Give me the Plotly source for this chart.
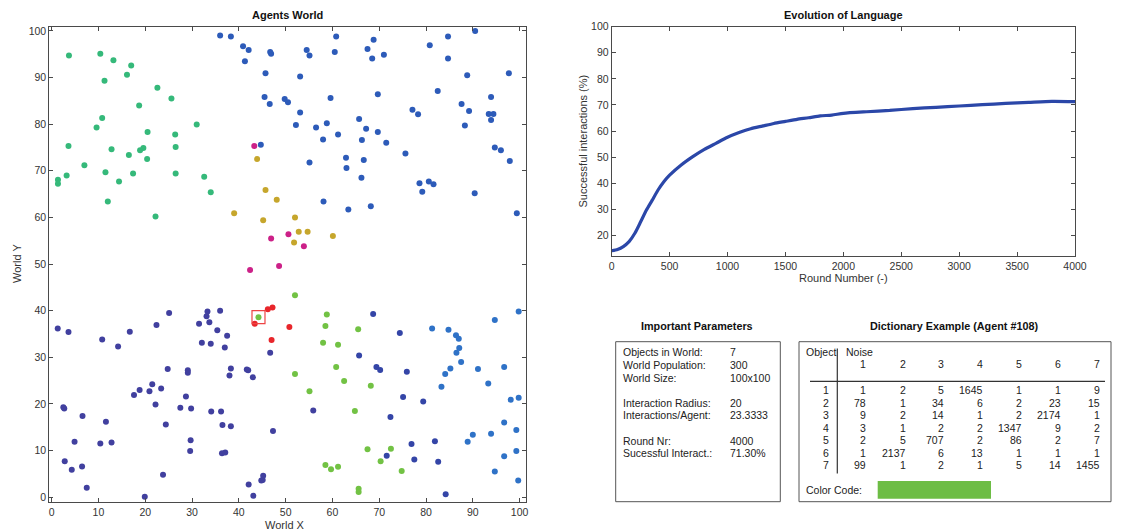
import plotly.graph_objects as go

W, H = 1135, 530


def fx(px):
    return px / W


def fy(py):
    return 1 - py / H


FONT = "Liberation Sans, Arial, sans-serif"
AXIS_COL = "#4a4a4a"
TEXT_COL = "#222222"

# ---------------- agents, grouped by shared language ----------------
teal_x = [3.7, 10.4, 13.2, 17.0, 16.1, 11.3, 22.6, 25.6, 18.7, 10.8, 9.6, 31.0, 20.5, 26.4, 3.6, 12.8,
          18.9, 19.6, 26.5, 16.5, 20.4, 7.0, 1.35, 1.35, 3.2, 11.5, 17.4, 26.5, 14.4, 32.6, 34.0, 12.0, 22.2]
teal_y = [94.7, 95.1, 93.7, 92.6, 90.6, 89.3, 87.8, 85.5, 84.0, 81.3, 79.3, 79.9, 78.3, 77.8, 75.3, 74.6,
          74.4, 74.9, 75.1, 73.4, 72.5, 71.2, 68.1, 67.2, 69.0, 69.7, 69.4, 69.4, 67.7, 68.7, 65.4, 63.4, 60.2]

blue_x = [36.0, 38.3, 40.9, 42.1, 41.3, 46.7, 46.9, 45.7, 45.5, 46.6, 44.7,
          60.8, 54.5, 55.1, 60.5, 68.8, 67.5, 68.5, 71.0, 80.8, 84.7, 84.7, 90.5, 53.1, 88.8, 97.7,
          82.5, 69.7, 49.8, 50.5, 59.6, 53.1, 52.2, 56.5, 58.8, 61.2, 58.0, 65.7, 67.2, 69.7, 66.3,
          71.5, 77.1, 78.3, 75.6, 87.6, 89.2, 88.3, 93.9, 93.4, 94.4, 93.9, 94.7, 96.0, 97.9, 62.9,
          63.0, 66.7, 55.1, 66.2, 78.6, 79.2, 80.6, 81.6, 90.4, 99.4, 58.1, 63.4, 68.2]
blue_y = [99.0, 98.8, 96.7, 95.9, 93.5, 95.5, 95.1, 90.9, 85.8, 84.3, 75.6,
          98.8, 95.9, 94.7, 95.5, 98.1, 96.1, 94.1, 94.9, 96.9, 98.8, 94.1, 100.0, 90.2, 90.5, 90.9,
          87.1, 86.4, 85.4, 84.7, 85.6, 82.5, 79.8, 79.3, 80.2, 77.8, 76.7, 81.1, 79.0, 78.3, 76.6,
          76.0, 83.1, 82.1, 73.7, 84.3, 82.8, 79.7, 85.8, 82.2, 82.2, 80.9, 75.0, 74.4, 72.1, 72.8,
          70.6, 72.3, 71.8, 68.5, 67.3, 65.5, 67.7, 67.1, 65.2, 60.9, 63.4, 61.7, 62.4]

purple_x = [1.3, 3.6, 10.8, 16.7, 14.2, 22.4, 25.1, 31.5, 33.3, 33.1, 33.7, 32.1, 34.0, 36.0, 35.4,
            37.5, 37.0, 38.3, 38.0, 41.7, 42.0, 43.0, 46.7, 24.8, 29.1, 29.1, 21.5, 23.4, 20.9, 18.8,
            17.6, 28.7, 2.7, 2.5, 22.2, 27.5, 29.8, 6.6, 11.6, 24.4, 34.1, 36.2, 36.5, 38.3, 47.3,
            4.9, 10.4, 12.8, 29.7, 29.6, 36.4, 37.1, 2.8, 4.3, 6.5, 23.8, 7.5, 19.9, 42.1, 43.1,
            44.8, 45.1, 45.2, 55.9]
purple_y = [36.2, 35.4, 33.8, 35.5, 32.3, 36.9, 39.5, 37.2, 39.8, 38.8, 37.5, 33.1, 32.9, 40.0, 35.8,
            34.6, 32.1, 27.6, 26.1, 27.4, 27.2, 25.7, 31.0, 27.5, 27.2, 26.7, 24.2, 23.3, 22.7, 23.0,
            21.9, 21.6, 19.0, 19.3, 19.9, 19.2, 19.0, 17.4, 16.2, 15.6, 18.4, 18.4, 15.5, 15.2, 14.2,
            11.9, 11.5, 11.7, 12.2, 9.9, 9.4, 9.6, 7.7, 5.9, 6.6, 4.8, 2.0, 0.1, 2.7, 0.3,
            3.6, 3.7, 4.6, 18.6]

navy_x = [65.7, 69.4, 70.2, 68.7, 74.4, 75.9, 75.1, 79.4, 72.4, 76.9, 81.9, 71.6, 77.5, 82.6, 84.2]
navy_y = [30.4, 27.9, 27.3, 39.3, 35.2, 26.9, 21.5, 20.5, 17.2, 11.4, 12.0, 8.9, 8.1, 7.6, 0.6]

sky_x = [81.3, 84.8, 86.4, 87.0, 87.1, 86.5, 87.5, 85.2, 84.1, 83.3, 91.1, 93.3, 94.7, 96.7, 99.8,
         98.1, 99.8, 96.7, 99.3, 90.0, 93.9, 88.9, 99.3, 96.7, 94.7, 99.7]
sky_y = [36.2, 35.9, 34.7, 34.0, 32.0, 31.0, 29.0, 27.6, 26.4, 23.7, 27.5, 24.4, 38.0, 27.9, 39.8,
         20.9, 21.3, 16.0, 14.4, 13.4, 13.6, 11.9, 9.9, 8.8, 5.5, 3.6]

lime_x = [52.0, 58.8, 58.5, 65.5, 58.0, 61.2, 60.8, 52.0, 62.5, 68.2, 55.1, 64.8, 67.5, 72.5, 70.3,
          74.8, 58.5, 59.7, 61.2, 65.6, 65.6, 44.2]
lime_y = [43.3, 39.2, 36.7, 36.0, 33.1, 32.7, 27.9, 26.4, 24.9, 23.9, 22.7, 18.5, 10.3, 10.4, 7.7,
          5.6, 6.9, 6.0, 6.5, 1.8, 1.1, 38.6]

gold_x = [43.9, 39.0, 45.7, 48.1, 45.2, 52.0, 52.8, 54.7, 51.8, 60.1]
gold_y = [72.5, 60.9, 65.9, 63.8, 59.4, 60.0, 56.9, 56.9, 54.6, 56.0]

magenta_x = [43.3, 46.9, 50.6, 53.9, 48.6, 42.4]
magenta_y = [75.3, 55.5, 56.4, 53.8, 49.6, 48.7]

red_x = [43.4, 46.2, 47.2, 47.0, 50.8]
red_y = [37.2, 40.3, 40.7, 33.7, 36.5]

# agent #108, the one whose dictionary is listed
focus_x = [44.2]
focus_y = [38.6]

groups = [
    (teal_x, teal_y, "#35b97a"),
    (blue_x, blue_y, "#2d5bb9"),
    (purple_x, purple_y, "#41409f"),
    (navy_x, navy_y, "#3445a7"),
    (sky_x, sky_y, "#2f72c7"),
    (lime_x, lime_y, "#72c244"),
    (gold_x, gold_y, "#c6a62c"),
    (magenta_x, magenta_y, "#cc2188"),
    (red_x, red_y, "#e8262b"),
]

# ---------------- success rate over the rounds ----------------
rounds = [0, 50, 100, 150, 200, 250, 300, 350, 400, 450, 500, 600, 700, 800, 900, 1000,
          1100, 1200, 1300, 1400, 1500, 1600, 1700, 1800, 1900, 2000, 2200, 2400, 2600,
          2800, 3000, 3200, 3400, 3600, 3800, 4000]
success = [14.1, 14.6, 15.7, 17.6, 20.8, 25.2, 29.7, 33.5, 37.4, 40.6, 43.1, 47.0, 50.2, 53.0,
           55.3, 57.6, 59.4, 60.9, 61.9, 62.9, 63.7, 64.5, 65.1, 65.8, 66.1, 66.8, 67.4, 67.9,
           68.6, 69.1, 69.6, 70.1, 70.6, 71.0, 71.4, 71.3]

# ---------------- parameter panel ----------------
param_labels = ["Objects in World:", "World Population:", "World Size:", "",
                "Interaction Radius:", "Interactions/Agent:", "",
                "Round Nr:", "Sucessful Interact.:"]
param_values = ["7", "300", "100x100", "", "20", "23.3333", "", "4000", "71.30%"]

# ---------------- dictionary of agent #108 ----------------
noise_cols = ["1", "2", "3", "4", "5", "6", "7"]
object_rows = ["1", "2", "3", "4", "5", "6", "7"]
dictionary = [
    [1, 2, 5, 1645, 1, 1, 9],
    [78, 1, 34, 6, 2, 23, 15],
    [9, 2, 14, 1, 2, 2174, 1],
    [3, 1, 2, 2, 1347, 9, 2],
    [2, 5, 707, 2, 86, 2, 7],
    [1, 2137, 6, 13, 1, 1, 1],
    [99, 1, 2, 1, 5, 14, 1455],
]
color_code = "#6dbd45"

fig = go.Figure()

for gx, gy, col in groups:
    fig.add_trace(go.Scatter(x=gx, y=gy, mode="markers", xaxis="x", yaxis="y",
                             marker=dict(size=6, color=col, line=dict(width=0)),
                             hoverinfo="skip"))

fig.add_trace(go.Scatter(x=focus_x, y=focus_y, mode="markers", xaxis="x", yaxis="y",
                         marker=dict(symbol="square-open", size=13, color="#ee4444",
                                     line=dict(width=1.2, color="#ee4444")),
                         hoverinfo="skip"))

fig.add_trace(go.Scatter(x=rounds, y=success, mode="lines", xaxis="x2", yaxis="y2",
                         line=dict(color="#2b47a8", width=3.2, shape="spline", smoothing=0.6),
                         hoverinfo="skip"))

axis_common = dict(showline=True, linecolor=AXIS_COL, linewidth=1, mirror="ticks",
                   ticks="inside", ticklen=4, tickcolor=AXIS_COL, showgrid=False,
                   zeroline=False, automargin=False,
                   tickfont=dict(family=FONT, size=10.5, color="#333333"))

fig.update_layout(
    width=W, height=H,
    margin=dict(l=0, r=0, t=0, b=0, pad=0, autoexpand=False),
    paper_bgcolor="white", plot_bgcolor="white",
    showlegend=False,
    font=dict(family=FONT, color=TEXT_COL),
    xaxis=dict(domain=[fx(49.3), fx(525.7)], range=[-0.5, 101.3],
               tickvals=list(range(0, 101, 10)), anchor="y", **axis_common),
    yaxis=dict(domain=[fy(502.3), fy(26.7)], range=[-1.1, 100.9],
               tickvals=list(range(0, 101, 10)), anchor="x", **axis_common),
    xaxis2=dict(domain=[fx(611.7), fx(1075)], range=[0, 4000],
                tickvals=list(range(0, 4001, 500)), anchor="y2", **axis_common),
    yaxis2=dict(domain=[fy(256), fy(26.7)], range=[12.1, 100],
                tickvals=list(range(20, 101, 10)), anchor="x2", **axis_common),
)

ann = []
shapes = []
TBL = 10.5


def text(px, py, s, size=11, anchor="left", bold=False, angle=0, color=TEXT_COL):
    ann.append(dict(x=fx(px), y=fy(py), xref="paper", yref="paper", text=f"<b>{s}</b>" if bold else s,
                    showarrow=False, xanchor=anchor, yanchor="middle", textangle=angle,
                    font=dict(family=FONT, size=size, color=color)))


# panel titles and axis titles
text(287, 14.5, "Agents World", 11, "center", bold=True, color="#111111")
text(843, 14.5, "Evolution of Language", 11, "center", bold=True, color="#111111")
text(285, 524.5, "World X", 11, "center", color="#333333")
text(17, 264, "World Y", 11, "center", angle=-90, color="#333333")
text(843, 277.5, "Round Number (-)", 11, "center", color="#333333")
text(582, 141.5, "Successful interactions (%)", 11, "center", angle=-90, color="#333333")

# parameter panel
text(697, 325.5, "Important Parameters", 10.8, "center", bold=True, color="#111111")
shapes.append(dict(type="rect", xref="paper", yref="paper", x0=fx(615.7), x1=fx(780.3),
                   y0=fy(501.7), y1=fy(341.7), line=dict(color="#555555", width=1)))
for i, (lab, val) in enumerate(zip(param_labels, param_values)):
    if not lab:
        continue
    py = 352.3 + 12.6 * i
    text(621.5, py, lab, TBL)
    text(728.3, py, val, TBL)

# dictionary panel
text(954, 325.5, "Dictionary Example (Agent #108)", 10.8, "center", bold=True, color="#111111")
shapes.append(dict(type="rect", xref="paper", yref="paper", x0=fx(799), x1=fx(1111),
                   y0=fy(501.7), y1=fy(341.7), line=dict(color="#555555", width=1)))
shapes.append(dict(type="line", xref="paper", yref="paper", x0=fx(837.3), x1=fx(837.3),
                   y0=fy(473.5), y1=fy(348.5), line=dict(color="#333333", width=1.2)))
shapes.append(dict(type="line", xref="paper", yref="paper", x0=fx(810), x1=fx(1105),
                   y0=fy(381.3), y1=fy(381.3), line=dict(color="#333333", width=1.2)))
text(803.5, 351.7, "Object", TBL)
text(844.3, 351.7, "Noise", TBL)
col_right = [868, 907.5, 946.3, 985, 1023.6, 1062.8, 1102]
for c, lab in enumerate(noise_cols):
    text(col_right[c], 363.5, lab, TBL, "right")
for r, lab in enumerate(object_rows):
    py = 390 + 12.5 * r
    text(830.5, py, lab, TBL, "right")
    for c, v in enumerate(dictionary[r]):
        text(col_right[c], py, str(v), TBL, "right")
text(803.5, 490, "Color Code:", TBL)
shapes.append(dict(type="rect", xref="paper", yref="paper", x0=fx(877.7), x1=fx(991),
                   y0=fy(498.7), y1=fy(481), fillcolor=color_code, line=dict(width=0)))

fig.update_layout(annotations=ann, shapes=shapes)

fig.write_html("out.html")
